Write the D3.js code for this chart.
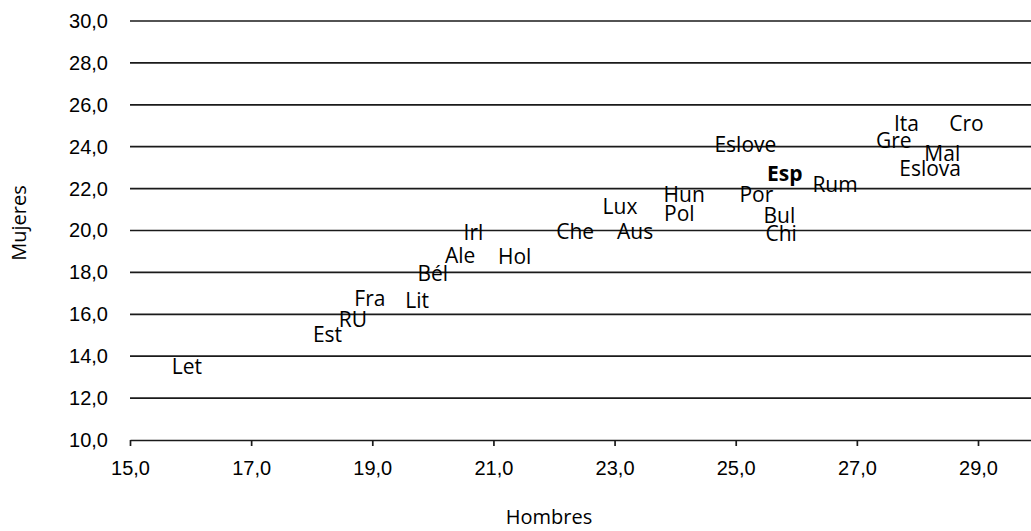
<!DOCTYPE html>
<html>
<head>
<meta charset="utf-8">
<script src="https://cdn.jsdelivr.net/npm/d3@7"></script>
<style>
  html, body { margin: 0; padding: 0; background: #fff; }
  svg { display: block; font-family: "Open Sans", "Noto Sans", sans-serif; }
</style>
</head>
<body>
<svg id="chart" width="1031" height="531"></svg>
<script>
// ---- data ----
const countries = ["Let","Est","RU","Fra","Lit","Bél","Ale","Irl","Hol","Che","Aus","Lux","Pol","Hun","Eslove","Por","Esp","Bul","Chi","Rum","Gre","Ita","Eslova","Mal","Cro"];
const hombres   = [15.94,18.26,18.68,18.96,19.74,20.00,20.45,20.67,21.35,22.35,23.34,23.09,24.07,24.15,25.16,25.34,25.81,25.72,25.75,26.64,27.61,27.82,28.21,28.41,28.81];
const mujeres   = [13.50,15.01,15.76,16.76,16.65,17.96,18.78,19.90,18.75,19.95,19.94,21.14,20.79,21.73,24.11,21.69,22.70,20.69,19.87,22.17,24.29,25.08,22.97,23.68,25.08];
const highlight = ["Esp"];
const xTicks = [15,17,19,21,23,25,27,29];
const yTicks = [10,12,14,16,18,20,22,24,26,28,30];
const xTitle = "Hombres";
const yTitle = "Mujeres";

(function () {
const svg = d3.select("#chart");
const mLeft = 130, mRight = 1031, mTop = 21, mBottom = 440;
const fmt = d => d.toFixed(1).replace(".", ",");

const x = d3.scaleLinear().domain([15, 29]).range([mLeft, 978]);
const xEnd = x.invert(mRight);
x.domain([15, xEnd]).range([mLeft, mRight]);
const y = d3.scaleLinear().domain([10, 30]).range([mBottom, mTop]);

// horizontal grid lines
svg.append("g")
  .selectAll("line")
  .data(yTicks.filter(t => t !== 10))
  .join("line")
  .attr("x1", mLeft).attr("x2", mRight)
  .attr("y1", d => y(d)).attr("y2", d => y(d))
  .attr("stroke", "#1a1a1a").attr("stroke-width", 1.7);

// y axis labels (no axis line)
const yAxis = svg.append("g")
  .attr("transform", `translate(${mLeft},0)`)
  .call(d3.axisLeft(y).tickValues(yTicks).tickFormat(fmt).tickSize(0).tickPadding(22));
yAxis.select(".domain").remove();
yAxis.selectAll("text").attr("font-size", 20).attr("fill", "#000").attr("font-family", "inherit");

// x axis
const xAxis = svg.append("g")
  .attr("transform", `translate(0,${mBottom})`)
  .call(d3.axisBottom(x).tickValues(xTicks).tickFormat(fmt).tickSize(6).tickSizeOuter(0).tickPadding(15));
xAxis.select(".domain").attr("stroke", "#1a1a1a").attr("stroke-width", 1.7);
xAxis.selectAll(".tick line").attr("stroke", "#1a1a1a").attr("stroke-width", 1.7);
xAxis.selectAll("text").attr("font-size", 20).attr("fill", "#000").attr("font-family", "inherit");

// axis titles
svg.append("text")
  .attr("x", 549).attr("y", 524)
  .attr("text-anchor", "middle").attr("font-size", 20).text(xTitle);
svg.append("text")
  .attr("transform", `translate(26,223) rotate(-90)`)
  .attr("text-anchor", "middle").attr("font-size", 20).text(yTitle);

// point labels
svg.append("g")
  .selectAll("text")
  .data(countries.map((c, i) => ({c, h: hombres[i], m: mujeres[i]})))
  .join("text")
  .attr("x", d => x(d.h))
  .attr("y", d => y(d.m))
  .attr("dy", "0.35em")
  .attr("text-anchor", "middle")
  .attr("font-size", 21)
  .attr("font-weight", d => highlight.includes(d.c) ? "bold" : "normal")
  .attr("fill", "#000")
  .text(d => d.c);
})();
</script>
</body>
</html>
